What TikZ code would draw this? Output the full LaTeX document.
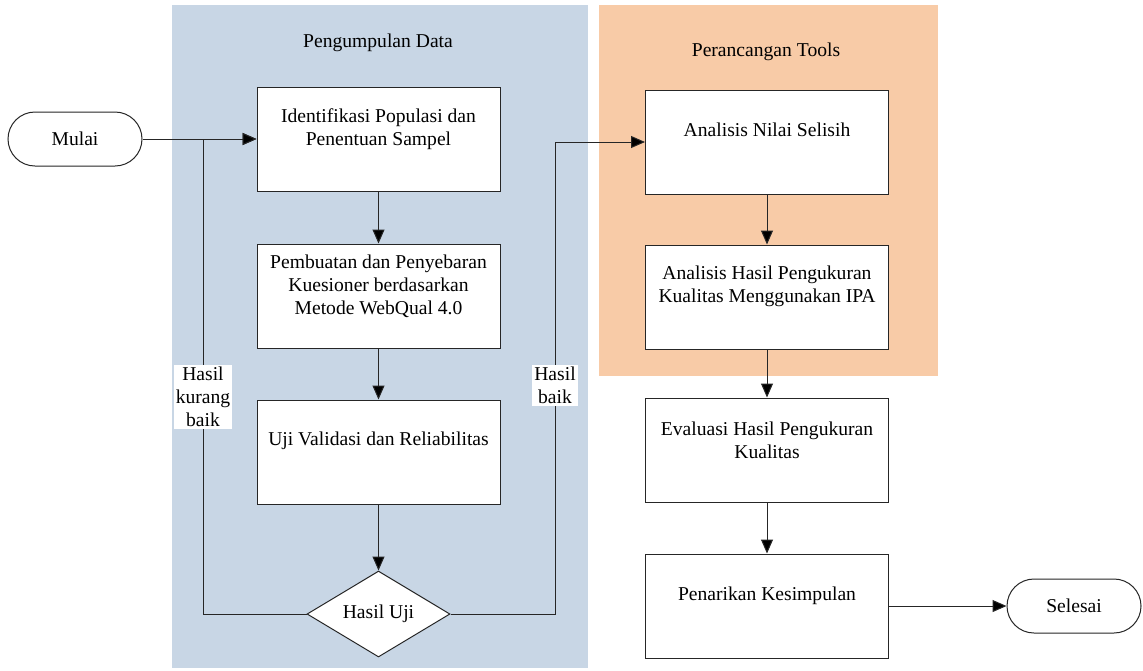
\documentclass[tikz,border=0pt]{standalone}
\usepackage{fontspec}
\setmainfont{Liberation Serif}
\newfontfamily\tnr{Liberation Serif}
\usetikzlibrary{arrows.meta,shapes.geometric}
\definecolor{panelblue}{RGB}{200,214,229}
\definecolor{panelorange}{RGB}{248,203,167}
\begin{document}
\begin{tikzpicture}[x=0.5pt,y=-0.5pt,
  every node/.style={font=\tnr\fontsize{9.8}{11.6}\selectfont},
  box/.style={draw=black!85, fill=white, line width=0.5pt, minimum width=121.5pt, minimum height=52pt, inner sep=0pt},
  boxtext/.style={align=center, inner sep=0pt},
  term/.style={draw=black!85, fill=white, line width=0.5pt, rounded corners=13.5pt, minimum width=67pt, minimum height=27pt},
  decision/.style={draw=black!85, fill=white, line width=0.5pt, diamond, aspect=1.66, minimum width=71.5pt, minimum height=43pt, inner sep=0pt},
  conn/.style={draw=black!85, line width=0.5pt},
  arr/.style={conn, -{Triangle[length=7pt,width=6pt,fill=black]}},
  lbl/.style={fill=white, align=center, inner sep=1pt}]
\useasboundingbox (0,0) rectangle (1143,670);
% panels
\fill[panelblue] (172,5) rectangle (588,668);
\fill[panelorange] (599,5) rectangle (938,376);
\node (t1) at (378,43) {Pengumpulan Data};
\node (t2) at (766,52) {Perancangan Tools};
% terminals
\node[term] (mulai) at (75,139) {Mulai};
\node[term] (selesai) at (1074,606) {Selesai};
% left column
\node[box] (b1) at (378.5,139) {};
\node[boxtext] at (378.5,129) {Identifikasi Populasi dan\\Penentuan Sampel};
\node[box] (b2) at (378.5,296) {};
\node[boxtext] at (378.5,286) {Pembuatan dan Penyebaran\\Kuesioner berdasarkan\\Metode WebQual 4.0};
\node[box] (b3) at (378.5,452) {};
\node[boxtext] at (378.5,441) {Uji Validasi dan Reliabilitas};
\node[decision] (dia) at (378.5,614) {Hasil Uji};
% right column
\node[box] (c1) at (767,142) {};
\node[boxtext] at (767,130) {Analisis Nilai Selisih};
\node[box] (c2) at (767,297) {};
\node[boxtext] at (767,286) {Analisis Hasil Pengukuran\\Kualitas Menggunakan IPA};
\node[box] (c3) at (767,450) {};
\node[boxtext] at (767,440) {Evaluasi Hasil Pengukuran\\Kualitas};
\node[box] (c4) at (767,606) {};
\node[boxtext] at (767,596) {Penarikan Kesimpulan};
% connectors
\coordinate (kb) at (203,139);
\coordinate (gb) at (555,142);
\draw[arr] (mulai.east) -- (b1.west);
\draw[arr] (b1.south) -- (b2.north);
\draw[arr] (b2.south) -- (b3.north);
\draw[arr] (b3.south) -- (dia.north);
\draw[arr] (dia.west) -| (kb) -- (b1.west);
\draw[arr] (dia.east) -| (gb) -- (c1.west);
\draw[arr] (c1.south) -- (c2.north);
\draw[arr] (c2.south) -- (c3.north);
\draw[arr] (c3.south) -- (c4.north);
\draw[arr] (c4.east) -- (selesai.west);
\node[lbl] (l1) at (203,397) {Hasil\\kurang\\baik};
\node[lbl] (l2) at (555,385) {Hasil\\baik};
\end{tikzpicture}
\end{document}
